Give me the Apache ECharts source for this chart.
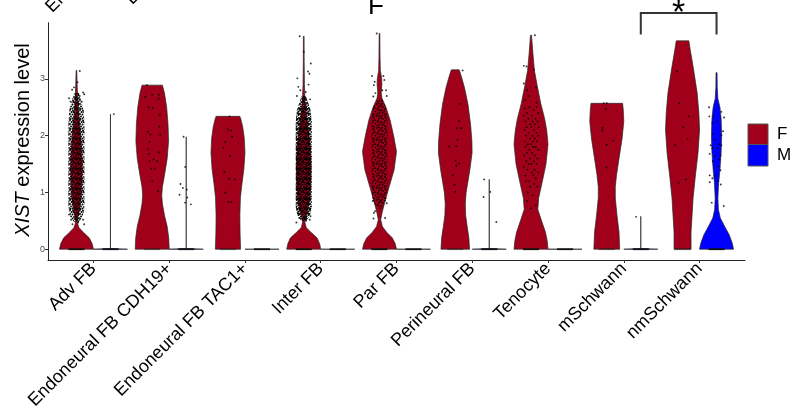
<!DOCTYPE html>
<html>
<head>
<meta charset="utf-8">
<script src="https://cdn.jsdelivr.net/npm/echarts@6/dist/echarts.min.js"></script>
<style>
  html, body { margin: 0; padding: 0; background: #fff; }
  #c { width: 795px; height: 413px; }
</style>
</head>
<body>
<div id="c"></div>
<script>
// ---- categories, groups, ticks ----
const categories = ['Adv FB', 'Endoneural FB CDH19+', 'Endoneural FB TAC1+', 'Inter FB', 'Par FB',
  'Perineural FB', 'Tenocyte', 'mSchwann', 'nmSchwann'];
const groups = ['F', 'M'];
const yTicks = [0, 1, 2, 3];

// ---- violin outlines: [XIST level, relative half-width (1 = widest)] ----
const violinAdvF = [[0,1],[0.1,0.92],[0.2,0.75],[0.3,0.4],[0.38,0.15],[0.45,0.07],[0.55,0.08],[0.7,0.18],[0.9,0.28],[1.2,0.33],[1.5,0.34],[1.8,0.3],[2.1,0.22],[2.4,0.13],[2.7,0.07],[2.9,0.04],[3.15,0.02]];
const violinCdhF = [[0,1],[0.2,0.97],[0.4,0.88],[0.6,0.72],[0.8,0.6],[0.95,0.56],[1.1,0.6],[1.3,0.72],[1.6,0.88],[1.9,0.96],[2.2,0.93],[2.5,0.85],[2.75,0.72],[2.89,0.6]];
const violinTacF = [[0,0.74],[0.3,0.71],[0.6,0.7],[0.9,0.73],[1.1,0.8],[1.4,0.93],[1.7,1],[1.95,0.96],[2.15,0.87],[2.3,0.75],[2.34,0.7]];
const violinInterF = [[0,1],[0.1,0.93],[0.2,0.78],[0.3,0.42],[0.38,0.15],[0.47,0.07],[0.55,0.1],[0.7,0.25],[0.9,0.36],[1.2,0.42],[1.5,0.43],[1.8,0.38],[2.1,0.28],[2.35,0.17],[2.6,0.08],[2.9,0.04],[3.3,0.025],[3.75,0.02]];
const violinParF = [[0,1],[0.1,0.92],[0.2,0.75],[0.3,0.42],[0.4,0.17],[0.52,0.07],[0.64,0.15],[0.82,0.3],[1.1,0.57],[1.4,0.86],[1.72,1],[2.0,0.83],[2.28,0.62],[2.5,0.38],[2.65,0.15],[2.75,0.1],[2.9,0.14],[3.0,0.13],[3.15,0.05],[3.4,0.03],[3.8,0.02]];
const violinPeriF = [[0,0.84],[0.2,0.8],[0.4,0.7],[0.6,0.61],[0.8,0.59],[1.0,0.64],[1.2,0.75],[1.4,0.86],[1.7,0.99],[1.9,0.98],[2.2,0.9],[2.55,0.75],[2.85,0.54],[3.05,0.35],[3.16,0.23]];
const violinTenoF = [[0,1],[0.15,0.95],[0.3,0.85],[0.5,0.62],[0.7,0.4],[0.9,0.45],[1.2,0.67],[1.5,0.88],[1.85,1],[2.1,0.92],[2.3,0.8],[2.57,0.57],[2.87,0.37],[3.15,0.2],[3.45,0.11],[3.77,0.03]];
const violinMschF = [[0,0.76],[0.3,0.72],[0.6,0.6],[0.9,0.5],[1.1,0.5],[1.3,0.57],[1.6,0.72],[1.95,0.9],[2.25,1],[2.45,0.97],[2.57,0.93]];
const violinNmschF = [[0,0.5],[0.3,0.5],[0.6,0.56],[0.9,0.62],[1.25,0.74],[1.7,0.91],[2.1,1],[2.4,0.96],[2.75,0.86],[3.2,0.63],[3.5,0.46],[3.67,0.37]];

const violinAdvM = [[0,1],[0.012,0],[2.38,0]];
const violinCdhM = [[0,1],[0.012,0],[1.98,0]];
const violinZeroM = [[0,1]];
const violinPeriM = [[0,1],[0.012,0],[1.23,0]];
const violinMschM = [[0,1],[0.012,0],[0.58,0]];
const violinNmschM = [[0,1],[0.1,0.93],[0.25,0.75],[0.4,0.48],[0.55,0.22],[0.7,0.11],[0.9,0.08],[1.15,0.12],[1.4,0.2],[1.7,0.27],[2.0,0.3],[2.3,0.27],[2.5,0.2],[2.65,0.08],[2.85,0.04],[3.11,0.03]];

// ---- dense cell clouds: [XIST level, share of the jitter band] ----
const cloudAdvF = [[0.48,0.3],[0.58,0.8],[0.75,1],[2.2,1],[2.45,0.9],[2.6,0.6],[2.75,0.3]];
const cloudInterF = [[0.5,0.3],[0.6,0.8],[0.75,1],[2.25,1],[2.45,0.85],[2.6,0.5],[2.7,0.25]];
const cloudParF = [[0.75,0.5],[0.9,0.9],[1.1,1],[2.3,1],[2.5,0.8],[2.65,0.4]];

// ---- individual cells: [jitter (-1..1), XIST level] ----
const pointsAdvF = [[0.42,3.14],[0.13,2.94],[-0.54,2.81],[0.83,2.76],[0.96,2.73],[-0.92,2.66],[-0.75,2.6],[0.67,2.6],[-0.3,2.85],[0.4,2.7],[-0.67,0.52],[-0.5,0.44],[0.83,0.52],[0.96,0.44],[-0.92,0.61],[0.2,0.47]];
const pointsAdvM = [[0.42,2.38]];
const pointsCdhF = [[-0.67,2.89],[-0.88,2.68],[0,2.72],[0.83,2.72],[0.79,2.65],[-0.46,2.5],[0.08,2.49],[0.92,2.37],[0.88,2.16],[-0.54,2.07],[-0.21,2.02],[1,2.02],[-0.33,1.89],[-0.54,1.76],[-0.42,1.68],[0.83,1.71],[-0.33,1.55],[0.63,1.55],[0.17,1.58],[-0.13,1.42],[0.33,1.42],[0,1.2],[0.71,1.02]];
const pointsCdhM = [[-0.33,1.98],[-0.13,1.45],[-0.71,1.15],[-0.42,1.08],[0.08,1.05],[-0.83,0.96],[0.13,0.91],[-0.13,0.82],[0.58,0.79]];
const pointsTacF = [[0.19,2.34],[-0.02,2.11],[0.35,2.09],[0.52,1.98],[-0.35,1.89],[-0.56,1.79],[0.27,1.64],[-0.44,1.36],[0.15,1.24],[0.85,1.23],[-0.31,1.0],[0.06,0.83],[0.4,0.83]];
const pointsInterF = [[-0.5,3.75],[0,3.48],[0.88,3.27],[0.54,3.13],[0.71,3.09],[-0.79,3.01],[-0.67,2.86],[0.6,2.9],[-0.42,2.8],[0.25,2.77],[0.79,2.64],[-0.85,2.7],[-0.92,0.47],[0.75,0.52],[-0.55,0.55],[0.85,0.58],[0.3,0.5]];
const pointsParF = [[-0.35,3.8],[-0.94,3.05],[-0.6,2.95],[-0.7,2.89],[0.48,3.05],[0.6,2.98],[0.81,2.8],[0.35,2.8],[-0.77,2.69],[-0.5,2.75],[0.9,2.7],[-0.83,0.85],[0.9,0.81],[-0.55,0.67],[-0.7,0.64],[0.7,0.55],[-0.75,0.54],[0.1,0.72]];
const pointsPeriF = [[0.92,3.15],[0.63,2.56],[0.46,2.26],[0.21,2.13],[0.75,2.13],[0.29,1.93],[-0.79,1.81],[0.13,1.82],[0.04,1.56],[0.46,1.51],[0.13,1.47],[-0.29,1.3],[-0.08,1.13],[0,1.01]];
const pointsPeriM = [[-0.63,1.23],[0.13,1.01],[-0.71,0.92],[0.88,0.48]];
const pointsTenoF = [[0.48,3.77],[-0.9,3.23],[-0.56,3.22],[0.35,3.16],[-0.9,2.92],[0.6,2.85],[-0.48,2.8],[-0.31,2.7],[-0.73,2.63],[0.7,2.58],
  [-0.2,2.5],[0.7,2.5],[-0.8,2.48],[0.3,2.45],[-0.5,2.4],[0.9,2.4],[0.1,2.35],[-0.9,2.35],[0.55,2.3],[-0.35,2.3],
  [-0.7,2.25],[0.2,2.25],[0.85,2.25],[-0.1,2.2],[0.5,2.2],[-0.55,2.15],[0.95,2.15],[0.05,2.15],[0.4,2.1],[-0.85,2.1],
  [-0.3,2.05],[0.7,2.05],[0.15,2.0],[-0.6,2.0],[0.9,2.0],[-0.15,1.95],[0.45,1.95],[-0.8,1.9],[0.25,1.9],[0.75,1.9],
  [-0.4,1.85],[0,1.85],[0.6,1.8],[-0.7,1.8],[0.3,1.8],[-0.2,1.75],[0.9,1.75],[-0.5,1.7],[0.15,1.7],[0.5,1.65],
  [-0.85,1.65],[-0.1,1.6],[0.8,1.6],[-0.6,1.55],[0.35,1.55],[0,1.5],[-0.3,1.5],[0.7,1.5],[-0.9,1.45],[0.45,1.4],
  [-0.45,1.4],[0.1,1.35],[0.9,1.35],[-0.7,1.3],[0.3,1.3],[0.6,1.25],[-0.2,1.2],[-0.6,1.2],[0.4,1.15],[-0.1,1.1],
  [0.8,1.1],[-0.4,1.0],[0.2,0.95],[-0.5,0.85],[0,0.72],[0.6,0.78]];
const pointsMschF = [[-0.38,2.57],[0,2.57],[-0.13,2.47],[-0.54,2.14],[-0.54,2.09],[0.79,1.91],[-0.04,1.84],[-0.04,1.44]];
const pointsMschM = [[-0.58,0.57]];
const pointsNmschF = [[-0.69,3.13],[-0.4,2.57],[0.77,2.34],[0.06,2.15],[0.65,1.94],[-0.94,1.83],[0.4,1.23],[-0.48,1.17]];
const pointsNmschM = [[-0.94,2.5],[0.6,2.42],[-0.9,2.34],[-0.4,2.34],[0.94,2.32],[0.02,2.25],[-0.52,2.22],[0.81,2.08],[-0.44,2.03],[0.6,2.01],
  [-0.15,1.93],[0.31,1.85],[-0.73,1.83],[0.6,1.83],[-0.52,1.78],[0.1,1.78],[0.48,1.65],[-0.19,1.64],[-0.85,1.68],[0.35,1.58],
  [-0.48,1.55],[0.19,1.46],[0.48,1.39],[-0.85,1.3],[-0.15,1.29],[-0.52,1.25],[0.19,1.2],[-0.85,1.18],[0.52,1.14],[-0.6,0.82],[0.9,0.76]];

// cells sitting at zero expression (strength of the dark band at the base)
const zeroF = [1, 0.45, 0.45, 1, 1, 0.45, 1, 0.45, 0.45];
const zeroM = [1, 1, 1, 1, 1, 1, 1, 1, 1];

// ---- assembled per group, indexed by category ----
const violinsF = [violinAdvF, violinCdhF, violinTacF, violinInterF, violinParF, violinPeriF, violinTenoF, violinMschF, violinNmschF];
const violinsM = [violinAdvM, violinCdhM, violinZeroM, violinZeroM, violinZeroM, violinPeriM, violinZeroM, violinMschM, violinNmschM];
const pointsF = [pointsAdvF, pointsCdhF, pointsTacF, pointsInterF, pointsParF, pointsPeriF, pointsTenoF, pointsMschF, pointsNmschF];
const pointsM = [pointsAdvM, pointsCdhM, [], [], [], pointsPeriM, [], pointsMschM, pointsNmschM];
const clouds = [[0, 0, cloudAdvF, 'heavy'], [3, 0, cloudInterF, 'dense'], [4, 0, cloudParF, 'medium']];

// ---- drawing constants ----
const FONT = '"Liberation Sans", Arial, Helvetica, sans-serif';
const RED = '#A0001A', BLUE = '#0000FF';
const DODGE = 0.2244, HALF = 0.2244, JIT = 0.106;
const colors = [RED, BLUE];
const violins = [violinsF, violinsM];
const pointSets = [pointsF, pointsM];
const zeroSets = [zeroF, zeroM];

function groupX(c, g) { return c + (g === 0 ? -DODGE : DODGE); }

// dotted textures standing in for thousands of overlapping cells
function makePattern(dots, size, r) {
  const cv = document.createElement('canvas');
  cv.width = size; cv.height = size;
  const ctx = cv.getContext('2d');
  ctx.fillStyle = '#000';
  dots.forEach(([x, y]) => {
    // wrap each dot so the tile repeats seamlessly
    [-size, 0, size].forEach(dx => [-size, 0, size].forEach(dy => {
      ctx.beginPath(); ctx.arc(x + dx, y + dy, r, 0, Math.PI * 2); ctx.fill();
    }));
  });
  return { image: cv, repeat: 'repeat' };
}
const heavyDots = [[0,0],[3,0.5],[6.5,0],[8.5,1.5],[1.5,2],[4.5,2.5],[7,3],[0,4],[2.5,4.5],[5.5,4.5],[8.5,5],[1,6.5],
  [4,7],[6.5,6.5],[9,8],[2.5,8.5],[5,9],[7.5,9],[0.5,9],[3.5,2],[6,8],[8.5,3.5]];
const patterns = {
  heavy: makePattern(heavyDots, 10, 0.95),
  dense: makePattern(heavyDots, 10, 1.1),
  medium: makePattern([[1,1],[6,0.5],[9.5,2],[3.5,3.5],[7.5,5],[0.5,6],[10,7.5],[4.5,8],[2,10],[7,10.5],[11,11],[5.5,1.5],
    [2,6.5],[8.5,8.5],[5.5,5.5],[10.5,4.5],[3,0],[8,2.5],[0,3],[6.5,7.5],[1,8.5],[9.5,10]], 12, 0.85)
};

const violinData = [], zeroData = [], scatterData = [];
categories.forEach((_, c) => {
  [0, 1].forEach(g => {
    violinData.push([c, g]);
    zeroData.push([c, g, zeroSets[g][c]]);
    pointSets[g][c].forEach(([j, v]) => scatterData.push([groupX(c, g) + j * JIT, v]));
  });
});

const chart = echarts.init(document.getElementById('c'), null, { renderer: 'canvas' });

chart.setOption({
  animation: false,
  backgroundColor: '#fff',
  grid: { left: 48, right: 50, top: 22.7, bottom: 153 },
  xAxis: {
    type: 'value', min: -0.6, max: 8.6,
    splitLine: { show: false },
    axisLine: { show: true, onZero: false, lineStyle: { color: '#222', width: 1 } },
    axisTick: { show: true, customValues: categories.map((_, i) => i), length: 3, lineStyle: { color: '#333' } },
    axisLabel: {
      customValues: categories.map((_, i) => i),
      formatter: v => categories[Math.round(v)],
      rotate: 45, fontSize: 18, color: '#000', fontFamily: FONT, margin: 6
    }
  },
  yAxis: {
    type: 'value', min: -0.19, max: 3.99,
    splitLine: { show: false },
    axisLine: { show: true, onZero: false, lineStyle: { color: '#222', width: 1 } },
    axisTick: { show: true, customValues: yTicks, length: 3, lineStyle: { color: '#333' } },
    axisLabel: { customValues: yTicks, fontSize: 9, color: '#4d4d4d', fontFamily: FONT, margin: 3 }
  },
  series: [
    {
      name: 'violin', type: 'custom', z: 2, data: violinData,
      renderItem(params, api) {
        const c = api.value(0), g = api.value(1);
        const prof = violins[g][c];
        const cx = groupX(c, g);
        const right = prof.map(([v, w]) => api.coord([cx + w * HALF, v]));
        const left = prof.slice().reverse().map(([v, w]) => api.coord([cx - w * HALF, v]));
        return {
          type: 'polygon', shape: { points: right.concat(left) },
          style: { fill: colors[g], stroke: '#262626', lineWidth: 0.7 }
        };
      }
    },
    {
      name: 'cloud', type: 'custom', z: 3, data: clouds.map((d, i) => [d[0], d[1], i]),
      renderItem(params, api) {
        const [c, g, prof, kind] = clouds[api.value(2)];
        const cx = groupX(c, g);
        const right = prof.map(([v, w]) => api.coord([cx + w * JIT, v]));
        const left = prof.slice().reverse().map(([v, w]) => api.coord([cx - w * JIT, v]));
        return { type: 'polygon', shape: { points: right.concat(left) }, style: { fill: patterns[kind] } };
      }
    },
    {
      name: 'zero', type: 'custom', z: 4, data: zeroData,
      renderItem(params, api) {
        const c = api.value(0), g = api.value(1), s = api.value(2);
        const cx = groupX(c, g);
        const a = api.coord([cx - JIT, 0]), b = api.coord([cx + JIT, 0]);
        return {
          type: 'line', shape: { x1: a[0], y1: a[1], x2: b[0], y2: b[1] },
          style: { stroke: '#111', lineWidth: 1.8, opacity: s }
        };
      }
    },
    {
      name: 'cells', type: 'scatter', z: 5, data: scatterData,
      symbol: 'circle', symbolSize: 1.9, itemStyle: { color: '#000' }, silent: true
    },
    {
      name: 'significance', type: 'custom', z: 6, data: [[7, 8]],
      renderItem(params, api) {
        const xa = groupX(api.value(0), 1), xb = groupX(api.value(1), 1);
        const p1 = api.coord([xa, 3.78]), p2 = api.coord([xa, 4.16]);
        const p3 = api.coord([xb, 4.16]), p4 = api.coord([xb, 3.78]);
        return {
          type: 'group', children: [
            { type: 'polyline', shape: { points: [p1, p2, p3, p4] }, style: { stroke: '#333', lineWidth: 2, fill: null } },
            { type: 'text', x: (p2[0] + p3[0]) / 2, y: p2[1] + 1,
              style: { text: '*', font: '34px ' + FONT, fill: '#000', align: 'center', textAlign: 'center', verticalAlign: 'middle', textVerticalAlign: 'middle' } }
          ]
        };
      }
    }
  ],
  graphic: [
    { type: 'text', x: 23, y: 140, rotation: Math.PI / 2,
      style: { text: '{i|XIST} expression level', fontSize: 20, fontFamily: FONT, fill: '#000',
        rich: { i: { fontStyle: 'italic', fontSize: 20, fontFamily: FONT, fill: '#000' } },
        align: 'center', textAlign: 'center', verticalAlign: 'middle', textVerticalAlign: 'middle' } },
    { type: 'text', x: 376, y: 7, style: { text: 'F', font: '26px ' + FONT, fill: '#000', align: 'center', textAlign: 'center', verticalAlign: 'middle', textVerticalAlign: 'middle' } },
    { type: 'text', x: 55, y: 16, rotation: Math.PI / 4, style: { text: 'Endoneural FB CDH19+', font: '18px ' + FONT, fill: '#000', align: 'left', textAlign: 'left', verticalAlign: 'bottom', textVerticalAlign: 'bottom' } },
    { type: 'text', x: 135, y: 8, rotation: Math.PI / 4, style: { text: 'Endoneural FB TAC1+', font: '18px ' + FONT, fill: '#000', align: 'left', textAlign: 'left', verticalAlign: 'bottom', textVerticalAlign: 'bottom' } },
    { type: 'rect', shape: { x: 748, y: 124, width: 20, height: 20.5 }, style: { fill: RED, stroke: '#555', lineWidth: 1 } },
    { type: 'rect', shape: { x: 748, y: 144.5, width: 20, height: 21.5 }, style: { fill: BLUE, stroke: '#555', lineWidth: 1 } },
    { type: 'text', x: 777, y: 134.5, style: { text: groups[0], font: '17px ' + FONT, fill: '#000', verticalAlign: 'middle', textVerticalAlign: 'middle' } },
    { type: 'text', x: 777, y: 155.5, style: { text: groups[1], font: '17px ' + FONT, fill: '#000', verticalAlign: 'middle', textVerticalAlign: 'middle' } }
  ]
});
</script>
</body>
</html>
